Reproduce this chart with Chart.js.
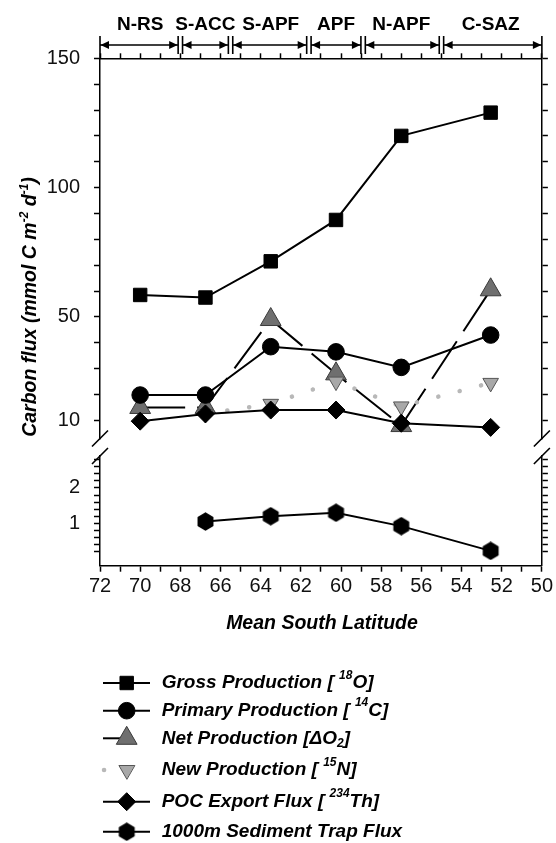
<!DOCTYPE html>
<html>
<head>
<meta charset="utf-8">
<script src="https://cdn.jsdelivr.net/npm/chart.js@4.4.1/dist/chart.umd.min.js"></script>
<style>
  html, body { margin: 0; padding: 0; background: #fff; }
  #wrap { width: 556px; height: 843px; position: relative; }
</style>
</head>
<body>
<div id="wrap"><canvas id="grafico"></canvas></div>
<script>
// station latitudes (deg S) and the measured fluxes
const latitudes = [70, 66.75, 63.5, 60.25, 57, 52.55];
const grossProd = [58.5, 57.5, 71.5, 87.5, 120, 129];
const primaryProd = [19.8, 19.8, 38.5, 36.5, 30.5, 43];
const netProd = [15, 15, 49, 28, 8, 60.5];
const newProd = [null, 12.5, 16.4, 25, 15.4, 24.5];
const pocFlux = [9.7, 12.5, 14, 14, 8.9, 7.3];
const trapFlux = [null, 1.05, 1.2, 1.3, 0.92, 0.22];

// frontal zones along the top
const zoneNames = ['N-RS', 'S-ACC', 'S-APF', 'APF', 'N-APF', 'C-SAZ'];
const zoneBounds = [72, 68, 65.5, 61.6, 58.9, 55, 50];

// tick labels
const xTickLabels = [72, 70, 68, 66, 64, 62, 60, 58, 56, 54, 52, 50];
const yUpperLabels = [10, 50, 100, 150];
const yLowerLabels = [1, 2];

const familia = '"Liberation Sans", Arial, sans-serif';
Chart.defaults.font.family = familia;
Chart.defaults.color = '#111';

const pontos = (vals) => latitudes.map((lat, i) => ({ x: lat, y: vals[i] }));

// hexagon marker for the sediment trap series
const hexagono = document.createElement('canvas');
hexagono.width = 19;
hexagono.height = 19;
(() => {
    const c = hexagono.getContext('2d');
    c.fillStyle = '#000';
    c.beginPath();
    for (let k = 0; k < 6; k++) {
        const a = -Math.PI / 2 + k * Math.PI / 3;
        const px = 9.5 + 9.2 * Math.cos(a), py = 9.5 + 9.2 * Math.sin(a);
        k ? c.lineTo(px, py) : c.moveTo(px, py);
    }
    c.closePath();
    c.fill();
})();

const temLabel = (lista, v) => lista.some(l => Math.abs(l - v) < 1e-6);

// text with superscripts / subscripts, parts are strings or {t, sup|sub}
function textoRico(ctx, partes, x, y, tam, desenhar = true) {
    let cx = x;
    partes.forEach(p => {
        const obj = typeof p === 'object';
        const t = obj ? p.t : p;
        const sup = obj && p.sup, sub = obj && p.sub;
        ctx.font = `italic bold ${(sup || sub) ? Math.round(tam * 0.64) : tam}px ${familia}`;
        const dy = sup ? -tam * 0.4 : sub ? tam * 0.28 : 0;
        if (desenhar) ctx.fillText(t, cx, y + dy);
        cx += ctx.measureText(t).width;
    });
    return cx - x;
}

const tituloY = ['Carbon flux (mmol C m', { t: '-2', sup: true }, ' d', { t: '-1', sup: true }, ')'];

const legendaItens = [
    { ds: 0, partes: ['Gross Production [ ', { t: '18', sup: true }, 'O]'] },
    { ds: 1, partes: ['Primary Production [ ', { t: '14', sup: true }, 'C]'] },
    { ds: 2, partes: ['Net Production [\u0394O', { t: '2', sub: true }, ']'] },
    { ds: 3, partes: ['New Production [ ', { t: '15', sup: true }, 'N]'] },
    { ds: 4, partes: ['POC Export Flux [ ', { t: '234', sup: true }, 'Th]'] },
    { ds: 5, partes: ['1000m Sediment Trap Flux'] }
];
const legendaY = [683, 710.7, 738.3, 770, 801.7, 831.7];

const decoracoes = {
    id: 'decoracoes',
    afterDraw(chart) {
        const ctx = chart.ctx;
        const sx = chart.scales.x;
        const area = chart.chartArea;
        ctx.save();
        ctx.strokeStyle = '#000';
        ctx.fillStyle = '#000';
        ctx.lineWidth = 1.6;

        // zone brackets
        const yArrow = 45, barTop = 36, barBot = 54;
        const n = zoneNames.length;
        for (let i = 0; i < n; i++) {
            let a = sx.getPixelForValue(zoneBounds[i]);
            let b = sx.getPixelForValue(zoneBounds[i + 1]);
            if (i > 0) a += 2.2;
            if (i < n - 1) b -= 2.2;
            ctx.beginPath();
            ctx.moveTo(a, barTop); ctx.lineTo(a, i === 0 ? area.top : barBot);
            ctx.moveTo(b, barTop); ctx.lineTo(b, i === n - 1 ? area.top : barBot);
            ctx.moveTo(a, yArrow); ctx.lineTo(b, yArrow);
            ctx.stroke();
            ctx.beginPath();
            ctx.moveTo(a + 0.5, yArrow); ctx.lineTo(a + 9, yArrow - 4); ctx.lineTo(a + 9, yArrow + 4); ctx.closePath();
            ctx.moveTo(b - 0.5, yArrow); ctx.lineTo(b - 9, yArrow - 4); ctx.lineTo(b - 9, yArrow + 4); ctx.closePath();
            ctx.fill();
            ctx.font = `bold 19px ${familia}`;
            ctx.textAlign = 'center';
            ctx.textBaseline = 'alphabetic';
            ctx.fillText(zoneNames[i], sx.getPixelForValue(latitudes[i]), 30);
        }

        // axis breaks
        const yUp = chart.scales.y.bottom;
        const yLow = yUp + 17.5;
        [area.left, area.right].forEach(xx => {
            ctx.fillStyle = '#fff';
            ctx.fillRect(xx - 3, yUp + 1, 6, yLow - yUp - 2);
            ctx.beginPath();
            [yUp, yLow].forEach(yy => { ctx.moveTo(xx - 8, yy + 8); ctx.lineTo(xx + 8, yy - 8); });
            ctx.stroke();
        });
        ctx.fillStyle = '#000';

        // axis titles
        ctx.textBaseline = 'alphabetic';
        ctx.textAlign = 'left';
        ctx.save();
        ctx.translate(36, 307);
        ctx.rotate(-Math.PI / 2);
        const w = textoRico(ctx, tituloY, 0, 0, 19.5, false);
        textoRico(ctx, tituloY, -w / 2, 0, 19.5);
        ctx.restore();
        ctx.font = `italic bold 19.5px ${familia}`;
        ctx.textAlign = 'center';
        ctx.fillText('Mean South Latitude', 322, 629);

        // legend
        legendaItens.forEach((it, k) => {
            const ds = chart.data.datasets[it.ds];
            const y = legendaY[k];
            ctx.save();
            ctx.strokeStyle = ds.borderColor;
            ctx.lineWidth = ds.borderWidth;
            ctx.lineCap = ds.borderCapStyle || 'butt';
            ctx.beginPath();
            if (it.ds === 3) { ctx.moveTo(104, y); ctx.lineTo(104.1, y); }
            else if (it.ds === 2) { ctx.moveTo(103, y); ctx.lineTo(122, y); }
            else { ctx.moveTo(103, y); ctx.lineTo(150, y); }
            ctx.stroke();
            ctx.fillStyle = ds.backgroundColor;
            ctx.strokeStyle = ds.pointBorderColor || ds.borderColor;
            ctx.lineWidth = ds.pointBorderWidth;
            Chart.helpers.drawPoint(ctx, {
                pointStyle: ds.pointStyle,
                radius: ds.pointRadius,
                rotation: ds.pointRotation || 0,
                borderWidth: ds.pointBorderWidth
            }, 126.7, y);
            ctx.restore();
            ctx.fillStyle = '#000';
            ctx.textAlign = 'left';
            ctx.textBaseline = 'middle';
            textoRico(ctx, it.partes, 161.7, y, 19);
        });
        ctx.restore();
    }
};

const eixoY = (extra) => Object.assign({
    type: 'linear',
    grid: { drawOnChartArea: false, tickLength: 6, tickWidth: 1.5, tickColor: '#000' },
    border: { color: '#000', width: 1.5 }
}, extra);

const upperTick = c => (c.tick && c.tick.value < 9) ? 'rgba(0,0,0,0)' : '#000';
const lowerTick = c => (c.tick && (c.tick.value < 0.1 || c.tick.value > 2.85)) ? 'rgba(0,0,0,0)' : '#000';

new Chart(document.getElementById('grafico'), {
    type: 'line',
    data: {
        datasets: [
            {
                label: 'Gross Production', data: pontos(grossProd), yAxisID: 'y',
                borderColor: '#000', backgroundColor: '#000', borderWidth: 2,
                pointStyle: 'rect', pointRadius: 9.5, pointBorderWidth: 1, order: 1
            },
            {
                label: 'Primary Production', data: pontos(primaryProd), yAxisID: 'y',
                borderColor: '#000', backgroundColor: '#000', borderWidth: 2,
                pointStyle: 'circle', pointRadius: 8.3, pointBorderWidth: 1, order: 1
            },
            {
                label: 'Net Production', data: pontos(netProd), yAxisID: 'y',
                borderColor: '#000', backgroundColor: '#6f6f6f', pointBorderColor: '#3a3a3a',
                borderWidth: 2, borderDash: [45, 12],
                pointStyle: 'triangle', pointRadius: 12, pointBorderWidth: 1, order: 3
            },
            {
                label: 'New Production', data: pontos(newProd), yAxisID: 'y',
                borderColor: '#b8b8b8', backgroundColor: '#a8a8a8', pointBorderColor: '#555',
                borderWidth: 4.5, borderDash: [0.1, 22], borderCapStyle: 'round',
                pointStyle: 'triangle', pointRotation: 180, pointRadius: 9, pointBorderWidth: 1, order: 2
            },
            {
                label: 'POC Export Flux', data: pontos(pocFlux), yAxisID: 'y',
                borderColor: '#000', backgroundColor: '#000', borderWidth: 2,
                pointStyle: 'rectRot', pointRadius: 9, pointBorderWidth: 1, order: 0
            },
            {
                label: '1000m Sediment Trap Flux', data: pontos(trapFlux), yAxisID: 'y2',
                borderColor: '#000', backgroundColor: '#000', borderWidth: 2,
                pointStyle: hexagono, pointRadius: 9, pointBorderWidth: 1, order: 1
            }
        ]
    },
    options: {
        responsive: true,
        maintainAspectRatio: false,
        animation: false,
        layout: { padding: 0 },
        elements: { line: { tension: 0 } },
        plugins: { legend: { display: false }, tooltip: { enabled: false } },
        scales: {
            x: {
                type: 'linear', position: 'bottom', min: 50, max: 72, reverse: true,
                afterFit: s => { s.height = 277.3; },
                grid: { drawOnChartArea: false, tickLength: 6, tickWidth: 1.5, tickColor: '#000' },
                border: { color: '#000', width: 1.5 },
                ticks: {
                    stepSize: 1, autoSkip: false, maxRotation: 0, padding: 3, font: { size: 20 }, color: '#111',
                    callback: v => temLabel(xTickLabels, v) ? String(v) : ''
                }
            },
            xTop: {
                type: 'linear', position: 'top', min: 50, max: 72, reverse: true,
                afterFit: s => { s.height = 58.3; },
                grid: { drawOnChartArea: false, tickLength: 5, tickWidth: 1.5, tickColor: '#000' },
                border: { color: '#000', width: 1.5 },
                ticks: { stepSize: 1, autoSkip: false, maxRotation: 0, callback: () => '' }
            },
            y: eixoY({
                position: 'left', stack: 'esq', stackWeight: 380.2, weight: 2, min: 3, max: 150,
                afterFit: s => { s.width = 100; },
                grid: { drawOnChartArea: false, tickLength: 6, tickWidth: 1.5, tickColor: upperTick },
                ticks: { stepSize: 10, includeBounds: false, autoSkip: false, maxTicksLimit: 100, padding: 14,
                         font: { size: 20 }, color: '#111',
                         callback: v => temLabel(yUpperLabels, v) ? String(v) : '' }
            }),
            y2: eixoY({
                position: 'left', stack: 'esq', stackWeight: 127.2, weight: 1, min: -0.2, max: 3.4,
                afterFit: s => { s.width = 100; },
                grid: { drawOnChartArea: false, tickLength: 6, tickWidth: 1.5, tickColor: lowerTick },
                ticks: { stepSize: 0.2, autoSkip: false, maxTicksLimit: 100, padding: 14,
                         font: { size: 20 }, color: '#111',
                         callback: v => temLabel(yLowerLabels, v) ? String(v) : '' }
            }),
            yR: eixoY({
                position: 'right', stack: 'dir', stackWeight: 380.2, weight: 1, min: 3, max: 150,
                afterFit: s => { s.width = 12; },
                grid: { drawOnChartArea: false, tickLength: 6, tickWidth: 1.5, tickColor: upperTick },
                ticks: { stepSize: 10, includeBounds: false, autoSkip: false, maxTicksLimit: 100, callback: () => '' }
            }),
            y2R: eixoY({
                position: 'right', stack: 'dir', stackWeight: 127.2, weight: 2, min: -0.2, max: 3.4,
                afterFit: s => { s.width = 12; },
                grid: { drawOnChartArea: false, tickLength: 6, tickWidth: 1.5, tickColor: lowerTick },
                ticks: { stepSize: 0.2, autoSkip: false, maxTicksLimit: 100, callback: () => '' }
            })
        }
    },
    plugins: [decoracoes]
});
</script>
</body>
</html>
